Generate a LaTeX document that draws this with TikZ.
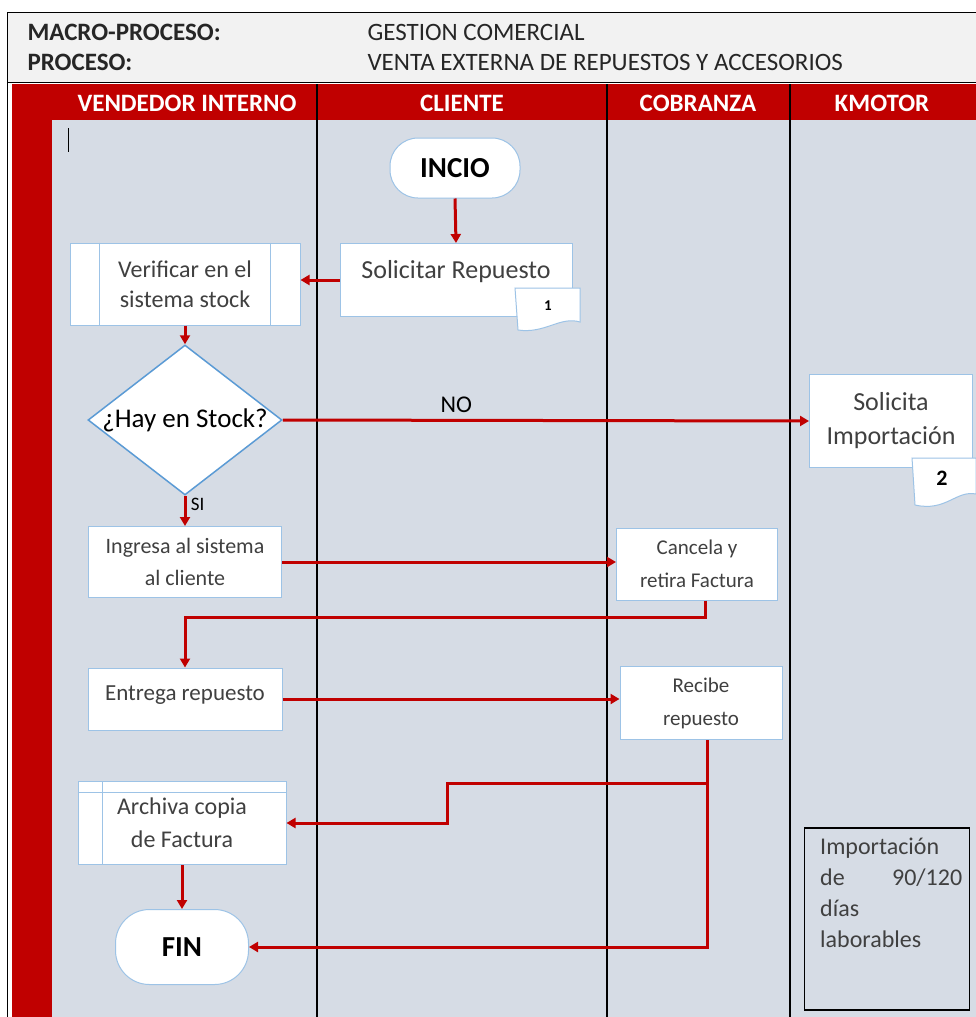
\documentclass[tikz,border=0pt]{standalone}
\usepackage{fontspec}
\setmainfont{Carlito}
\usetikzlibrary{arrows.meta,shapes.geometric}
\definecolor{rojo}{HTML}{C00000}
\definecolor{carril}{HTML}{D6DCE5}
\definecolor{cabecera}{HTML}{F2F2F2}
\definecolor{borde}{HTML}{9DC3E6}
\definecolor{rombo}{HTML}{5B9BD5}
\definecolor{texto}{HTML}{404040}

\begin{document}
\begin{tikzpicture}[x=1pt,y=-1pt,
  caja/.style={draw=borde,fill=white,line width=1pt,align=center,text=texto,inner sep=2pt,font=\fontsize{26}{34}\selectfont},
  cajachica/.style={caja,font=\fontsize{21}{33}\selectfont},
  terminal/.style={caja,font=\bfseries\fontsize{29}{34}\selectfont,text=black},
  documento/.style={draw=borde,fill=white,line width=1pt},
  flecha/.style={draw=rojo,line width=3pt,-{Triangle[length=9pt,width=10pt]}},
  carriltxt/.style={text=white,font=\bfseries\fontsize{25}{28}\selectfont},
  titulo/.style={anchor=west,text=black!85,font=\fontsize{25}{28}\selectfont}]

\useasboundingbox (0,0) rectangle (976,1017);
\fill[white] (0,0) rectangle (976,1017);
\fill[cabecera] (7,12) rectangle (976,82);
\fill[rojo] (12,84) rectangle (976,120);
\fill[rojo] (12,120) rectangle (52,1017);
\fill[carril] (52,120) rectangle (976,1017);
\draw[line width=1pt] (7,1017) -- (7,12) -- (976,12);
\draw (7,82) -- (976,82);
\foreach \x in {317,607,790}{
    \draw[line width=1.2pt] (\x,84) -- (\x,1017);
}
\draw[line width=1pt] (68,128) -- (68,152);

\node[titulo,font=\bfseries\fontsize{25}{28}\selectfont] (macro) at (24,32) {MACRO-PROCESO:};
\node[titulo,font=\bfseries\fontsize{25}{28}\selectfont] (proceso) at (24,62) {PROCESO:};
\node[titulo] (gestion) at (364,32) {GESTION COMERCIAL};
\node[titulo] (venta) at (364,62) {VENTA EXTERNA DE REPUESTOS Y ACCESORIOS};

\node[carriltxt] (vendedor) at (187,103) {VENDEDOR INTERNO};
\node[carriltxt] (cliente) at (462,103) {CLIENTE};
\node[carriltxt] (cobranza) at (698,103) {COBRANZA};
\node[carriltxt] (kmotor) at (882,103) {KMOTOR};

\node[terminal,rounded corners=28pt,minimum width=130,minimum height=60] (inicio) at (455,168) {INCIO};
\node[caja,text depth=22pt,minimum width=232,minimum height=73] (solicitar) at (456,280) {Solicitar Repuesto};
\draw[documento] (515,288) -- (580,288) -- (580,322) .. controls (560,316) and (545,334) .. (518,330) -- cycle;
\node[text=black,font=\bfseries\fontsize{15}{18}\selectfont] (uno) at (548,306) {1};

\node[caja,font=\fontsize{24}{30}\selectfont,minimum width=230,minimum height=82] (verificar) at (185,284) {Verificar en el\\sistema stock};
\draw[borde,line width=1pt] ([xshift=30pt]verificar.north west) -- ([xshift=30pt]verificar.south west);
\draw[borde,line width=1pt] ([xshift=-30pt]verificar.north east) -- ([xshift=-30pt]verificar.south east);

\node[diamond,draw=rombo,fill=white,line width=1.5pt,inner sep=0pt,minimum width=194,minimum height=150] (stock) at (185,420) {};
\node[text=black,font=\fontsize{27}{30}\selectfont] (stocktxt) at (stock.center) {¿Hay en Stock?};

\node[caja,minimum width=163,minimum height=93] (importa) at (891,421) {Solicita\\Importación};
\draw[documento] (912,458) -- (976,458) -- (976,494) .. controls (956,490) and (946,512) .. (915,505) -- cycle;
\node[text=black,font=\bfseries\fontsize{22}{24}\selectfont] (dos) at (942,478) {2};

\node[cajachica,font=\fontsize{22}{32}\selectfont,minimum width=193,minimum height=71] (ingresa) at (185,562) {Ingresa al sistema\\al cliente};
\node[cajachica,minimum width=161,minimum height=72] (cancela) at (697,564) {Cancela y\\retira Factura};
\node[cajachica,font=\fontsize{23}{30}\selectfont,text depth=12pt,minimum width=194,minimum height=62] (entrega) at (185,699) {Entrega repuesto};
\node[cajachica,minimum width=162,minimum height=73] (recibe) at (701,703) {Recibe\\repuesto};

\node[caja,font=\fontsize{24}{33}\selectfont,minimum width=208,minimum height=83] (archiva) at (182,823) {Archiva copia\\de Factura};
\draw[borde,line width=1pt] ([yshift=-11pt]archiva.north west) -- ([yshift=-11pt]archiva.north east);
\draw[borde,line width=1pt] ([xshift=25pt]archiva.north west) -- ([xshift=25pt]archiva.south west);

\node[terminal,rounded corners=34pt,minimum width=133,minimum height=75] (fin) at (182,947) {FIN};

\node[draw=black,line width=1.5pt,minimum width=165,minimum height=182] (nota) at (887,919) {};
\node[anchor=north west,inner sep=0pt,text width=142pt,align=left,text=texto,font=\fontsize{24}{31}\selectfont] (notatxt) at (820,838) {Importación\\de\hfill 90/120\\días\\laborables};

\draw[flecha] (inicio.south) -- (solicitar.north);
\draw[flecha] (solicitar.west) -- (solicitar.west -| verificar.east);
\draw[flecha] (verificar.south) -- (stock.north);
\draw[flecha] (stock.east) -- (importa.west) node[pos=0.33,above=3pt,text=black,font=\fontsize{24}{26}\selectfont] {NO};
\draw[flecha] (stock.south) -- (ingresa.north) node[pos=0.3,right=1pt,text=black,font=\fontsize{19}{22}\selectfont] {SI};
\draw[flecha] (ingresa.east) -- (ingresa.east -| cancela.west);
\draw[flecha] ([xshift=8pt]cancela.south) -- ++(0,17) -| (entrega.north);
\draw[flecha] (entrega.east) -- (entrega.east -| recibe.west);
\coordinate (codo) at (447,783);
\draw[flecha] ([xshift=6pt]recibe.south) |- (fin.east);
\draw[flecha] ([xshift=6pt]recibe.south |- codo) -- (codo) |- (archiva.east);
\draw[flecha] (archiva.south) -- (fin.north);
\end{tikzpicture}
\end{document}
